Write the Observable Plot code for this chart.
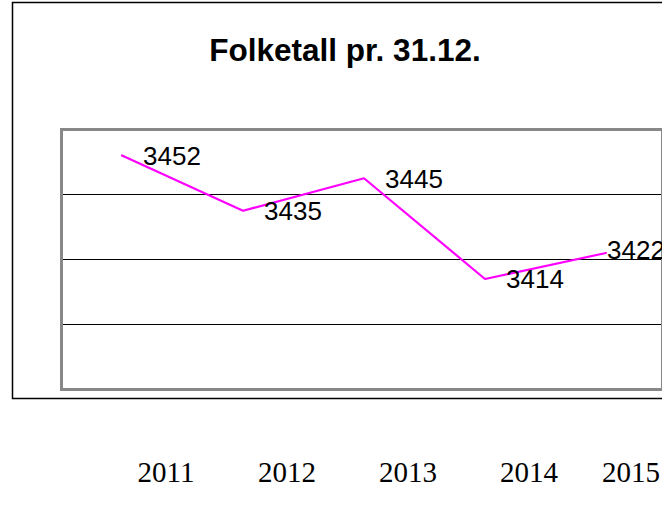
<!DOCTYPE html>
<html>
<head>
<meta charset="utf-8">
<script src="https://cdn.jsdelivr.net/npm/d3@7"></script>
<script src="https://cdn.jsdelivr.net/npm/@observablehq/plot@0.6"></script>
<style>
  html, body { margin: 0; padding: 0; background: #fff; overflow: hidden; }
  #chart svg { display: block; overflow: hidden; }
</style>
</head>
<body>
<div id="chart"></div>
<script>
const title = "Folketall pr. 31.12.";
const years = ["2011", "2012", "2013", "2014", "2015"];
const population = [3452, 3435, 3445, 3414, 3422];
const gridValues = [3400, 3420, 3440];

const data = years.map((year, i) => ({year, value: population[i]}));

const sans = "Liberation Sans, Arial, sans-serif";
const serif = "Liberation Serif, Times New Roman, serif";

const chart = Plot.plot({
  width: 662,
  height: 511,
  marginTop: 129,
  marginBottom: 122,
  marginLeft: 61,
  marginRight: 0,
  style: {background: "#fff", overflow: "hidden"},
  x: {type: "band", domain: years, range: [61, 666], padding: 0, axis: null},
  y: {domain: [3380, 3460], axis: null},
  marks: [
    Plot.frame({stroke: "#000", strokeWidth: 1.5, insetLeft: -49, insetTop: -127, insetBottom: -9, insetRight: -10}),
    Plot.ruleY(gridValues, {stroke: "#000", strokeWidth: 1}),
    Plot.frame({stroke: "#888", strokeWidth: 3}),
    Plot.line(data, {x: "year", y: "value", stroke: "#ff00ff", strokeWidth: 2.2}),
    Plot.text(data.slice(0, 4), {x: "year", y: "value", text: d => String(d.value), textAnchor: "start", lineAnchor: "middle", dx: 21, dy: 1, fontSize: 26, fontFamily: sans, fill: "#000"}),
    Plot.text(data.slice(4), {x: "year", y: "value", text: d => String(d.value), textAnchor: "start", lineAnchor: "middle", dx: 1, dy: -2, fontSize: 26, fontFamily: sans, fill: "#000"}),
    Plot.text([title], {frameAnchor: "top", text: d => d, lineAnchor: "bottom", dy: -69, dx: -17, fontSize: 31.5, fontWeight: "bold", fontFamily: sans, fill: "#000"}),
    Plot.text(years.slice(0, 4), {x: d => d, frameAnchor: "bottom", text: d => d, lineAnchor: "bottom", dy: 92, dx: 44, fontSize: 29, fontFamily: serif, fill: "#000"}),
    Plot.text(years.slice(4), {x: d => d, frameAnchor: "bottom", text: d => d, lineAnchor: "bottom", dy: 92, dx: 25, fontSize: 29, fontFamily: serif, fill: "#000"})
  ]
});
document.getElementById("chart").append(chart);
</script>
</body>
</html>
